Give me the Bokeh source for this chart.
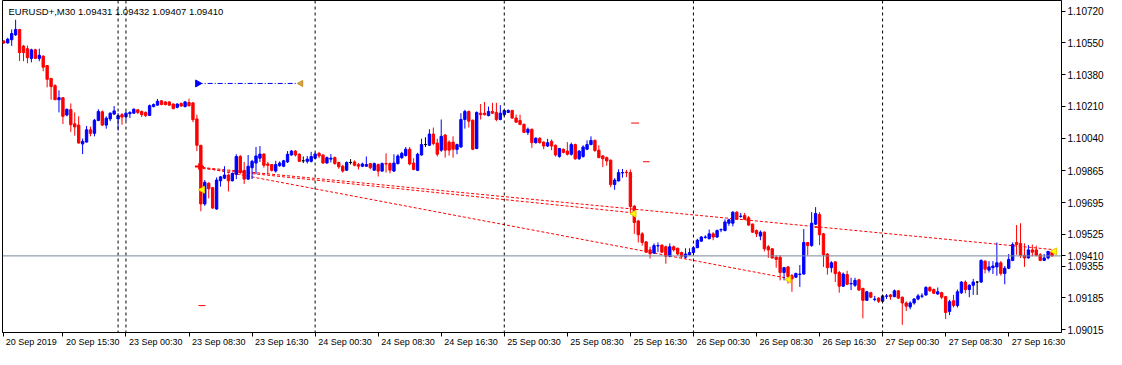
import math
from bokeh.plotting import figure
from bokeh.models import (Range1d, FixedTicker, Span, Label, ColumnDataSource,
                          NumeralTickFormatter, LinearAxis)
from bokeh.embed import file_html
from bokeh.resources import INLINE

symbol = "EURUSD+"
timeframe = "M30"

opens = [1.10560, 1.10550, 1.10567, 1.10593, 1.10622, 1.10533, 1.10519, 1.10467, 1.10513, 1.10467,
         1.10479, 1.10429, 1.10360, 1.10321, 1.10246, 1.10257, 1.10164, 1.10193, 1.10117, 1.10110,
         1.10009, 1.10019, 1.10085, 1.10066, 1.10135, 1.10181, 1.10110, 1.10143, 1.10169, 1.10143,
         1.10166, 1.10155, 1.10171, 1.10174, 1.10192, 1.10183, 1.10178, 1.10162, 1.10209, 1.10217,
         1.10240, 1.10234, 1.10234, 1.10223, 1.10205, 1.10226, 1.10209, 1.10231, 1.10229, 1.10143,
         1.10002, 1.09688, 1.09799, 1.09775, 1.09661, 1.09812, 1.09826, 1.09843, 1.09812, 1.09847,
         1.09942, 1.09868, 1.09821, 1.09882, 1.09907, 1.09933, 1.09955, 1.09902, 1.09899, 1.09864,
         1.09893, 1.09890, 1.09913, 1.09950, 1.09971, 1.09954, 1.09919, 1.09916, 1.09916, 1.09933,
         1.09959, 1.09950, 1.09907, 1.09928, 1.09936, 1.09910, 1.09890, 1.09869, 1.09910, 1.09913,
         1.09899, 1.09890, 1.09890, 1.09904, 1.09869, 1.09899, 1.09864, 1.09904, 1.09904, 1.09864,
         1.09904, 1.09936, 1.09947, 1.09981, 1.09907, 1.09868, 1.09950, 1.10006, 1.10002, 1.10062,
         1.10014, 1.09976, 1.10057, 1.10019, 1.10019, 1.09980, 1.09993, 1.10140, 1.10183, 1.10136,
         1.09985, 1.10174, 1.10174, 1.10161, 1.10183, 1.10178, 1.10140, 1.10166, 1.10178, 1.10188,
         1.10148, 1.10135, 1.10114, 1.10071, 1.10088, 1.10016, 1.10040, 1.10019, 1.09998, 1.10023,
         1.10002, 1.09942, 1.09981, 1.09971, 1.09954, 1.10006, 1.09930, 1.09942, 1.09981, 1.10006,
         1.10028, 1.09976, 1.09945, 1.09936, 1.09922, 1.09792, 1.09811, 1.09854, 1.09858, 1.09856,
         1.09676, 1.09597, 1.09528, 1.09485, 1.09442, 1.09425, 1.09463, 1.09468, 1.09459, 1.09408,
         1.09459, 1.09451, 1.09428, 1.09403, 1.09416, 1.09428, 1.09454, 1.09489, 1.09509, 1.09502,
         1.09528, 1.09511, 1.09549, 1.09546, 1.09585, 1.09585, 1.09644, 1.09621, 1.09626, 1.09614,
         1.09580, 1.09546, 1.09516, 1.09537, 1.09459, 1.09448, 1.09403, 1.09403, 1.09321, 1.09351,
         1.09304, 1.09296, 1.09311, 1.09313, 1.09482, 1.09465, 1.09580, 1.09631, 1.09528, 1.09420,
         1.09347, 1.09378, 1.09321, 1.09248, 1.09310, 1.09260, 1.09253, 1.09282, 1.09236, 1.09172,
         1.09213, 1.09177, 1.09184, 1.09167, 1.09194, 1.09201, 1.09192, 1.09223, 1.09189, 1.09158,
         1.09137, 1.09158, 1.09179, 1.09194, 1.09201, 1.09241, 1.09230, 1.09206, 1.09213, 1.09192,
         1.09113, 1.09170, 1.09144, 1.09213, 1.09270, 1.09230, 1.09253, 1.09270, 1.09270, 1.09382,
         1.09334, 1.09347, 1.09351, 1.09373, 1.09316, 1.09344, 1.09386, 1.09482, 1.09477, 1.09413,
         1.09399, 1.09442, 1.09442, 1.09416, 1.09386, 1.09399, 1.09431]

highs = [1.10565, 1.10577, 1.10622, 1.10674, 1.10625, 1.10539, 1.10536, 1.10519, 1.10519, 1.10519,
         1.10484, 1.10431, 1.10362, 1.10329, 1.10296, 1.10260, 1.10198, 1.10226, 1.10178, 1.10157,
         1.10038, 1.10105, 1.10102, 1.10143, 1.10195, 1.10188, 1.10157, 1.10178, 1.10212, 1.10174,
         1.10174, 1.10183, 1.10184, 1.10200, 1.10195, 1.10188, 1.10183, 1.10220, 1.10226, 1.10250,
         1.10243, 1.10238, 1.10238, 1.10226, 1.10226, 1.10231, 1.10240, 1.10252, 1.10234, 1.10166,
         1.10002, 1.09816, 1.09804, 1.09778, 1.09830, 1.09838, 1.09890, 1.09851, 1.09856, 1.09954,
         1.09950, 1.09913, 1.09950, 1.09924, 1.09993, 1.09998, 1.09959, 1.09913, 1.09902, 1.09919,
         1.09916, 1.09924, 1.09971, 1.09976, 1.09976, 1.09959, 1.09942, 1.09945, 1.09967, 1.09962,
         1.09967, 1.09954, 1.09942, 1.09955, 1.09942, 1.09914, 1.09897, 1.09916, 1.09928, 1.09921,
         1.09907, 1.09909, 1.09942, 1.09907, 1.09910, 1.09904, 1.09910, 1.09959, 1.09910, 1.09954,
         1.09954, 1.09967, 1.09993, 1.09993, 1.09933, 1.09962, 1.10037, 1.10045, 1.10088, 1.10097,
         1.10037, 1.10140, 1.10062, 1.10028, 1.10050, 1.10011, 1.10174, 1.10192, 1.10188, 1.10140,
         1.10183, 1.10223, 1.10234, 1.10209, 1.10229, 1.10229, 1.10217, 1.10192, 1.10195, 1.10192,
         1.10166, 1.10166, 1.10119, 1.10097, 1.10091, 1.10045, 1.10045, 1.10023, 1.10037, 1.10033,
         1.10006, 1.09988, 1.09985, 1.10019, 1.10016, 1.10011, 1.09976, 1.10002, 1.10028, 1.10050,
         1.10033, 1.10002, 1.09950, 1.09942, 1.09927, 1.09826, 1.09873, 1.09875, 1.09870, 1.09873,
         1.09682, 1.09603, 1.09537, 1.09489, 1.09459, 1.09477, 1.09482, 1.09471, 1.09465, 1.09477,
         1.09465, 1.09454, 1.09433, 1.09451, 1.09451, 1.09462, 1.09502, 1.09516, 1.09520, 1.09551,
         1.09537, 1.09551, 1.09557, 1.09606, 1.09609, 1.09649, 1.09649, 1.09640, 1.09640, 1.09623,
         1.09583, 1.09551, 1.09546, 1.09541, 1.09468, 1.09451, 1.09413, 1.09413, 1.09351, 1.09356,
         1.09313, 1.09320, 1.09361, 1.09554, 1.09482, 1.09644, 1.09671, 1.09644, 1.09533, 1.09425,
         1.09382, 1.09382, 1.09330, 1.09321, 1.09330, 1.09293, 1.09293, 1.09287, 1.09239, 1.09223,
         1.09218, 1.09196, 1.09189, 1.09201, 1.09206, 1.09206, 1.09230, 1.09227, 1.09192, 1.09167,
         1.09167, 1.09184, 1.09206, 1.09210, 1.09248, 1.09248, 1.09236, 1.09241, 1.09218, 1.09196,
         1.09175, 1.09201, 1.09230, 1.09275, 1.09279, 1.09258, 1.09287, 1.09275, 1.09391, 1.09386,
         1.09382, 1.09382, 1.09482, 1.09382, 1.09356, 1.09420, 1.09482, 1.09575, 1.09585, 1.09477,
         1.09468, 1.09471, 1.09465, 1.09425, 1.09420, 1.09437, 1.09432]

lows = [1.10545, 1.10546, 1.10534, 1.10587, 1.10453, 1.10452, 1.10441, 1.10446, 1.10463, 1.10452,
        1.10398, 1.10312, 1.10246, 1.10244, 1.10178, 1.10116, 1.10157, 1.10074, 1.10054, 1.10012,
        1.09955, 1.10017, 1.10050, 1.10050, 1.10131, 1.10105, 1.10091, 1.10131, 1.10164, 1.10081,
        1.10112, 1.10133, 1.10148, 1.10171, 1.10169, 1.10153, 1.10153, 1.10161, 1.10205, 1.10215,
        1.10217, 1.10215, 1.10214, 1.10195, 1.10200, 1.10209, 1.10205, 1.10209, 1.10126, 1.09971,
        1.09649, 1.09678, 1.09718, 1.09662, 1.09657, 1.09781, 1.09821, 1.09755, 1.09809, 1.09821,
        1.09847, 1.09795, 1.09816, 1.09821, 1.09847, 1.09913, 1.09882, 1.09847, 1.09861, 1.09856,
        1.09887, 1.09885, 1.09907, 1.09947, 1.09942, 1.09913, 1.09907, 1.09904, 1.09910, 1.09928,
        1.09933, 1.09904, 1.09904, 1.09910, 1.09899, 1.09876, 1.09856, 1.09864, 1.09899, 1.09890,
        1.09873, 1.09885, 1.09888, 1.09873, 1.09864, 1.09835, 1.09859, 1.09856, 1.09852, 1.09859,
        1.09899, 1.09928, 1.09942, 1.09895, 1.09868, 1.09864, 1.09947, 1.09993, 1.09998, 1.10002,
        1.09942, 1.09967, 1.09936, 1.09947, 1.09936, 1.09954, 1.09988, 1.10091, 1.10097, 1.09976,
        1.09981, 1.10140, 1.10161, 1.10157, 1.10171, 1.10131, 1.10136, 1.10157, 1.10174, 1.10143,
        1.10122, 1.10109, 1.10068, 1.10057, 1.09988, 1.10011, 1.10011, 1.09981, 1.09993, 1.09976,
        1.09942, 1.09936, 1.09959, 1.09947, 1.09947, 1.09924, 1.09924, 1.09936, 1.09976, 1.10002,
        1.09967, 1.09933, 1.09885, 1.09893, 1.09778, 1.09764, 1.09809, 1.09829, 1.09832, 1.09645,
        1.09528, 1.09482, 1.09465, 1.09425, 1.09396, 1.09420, 1.09430, 1.09425, 1.09368, 1.09403,
        1.09433, 1.09413, 1.09396, 1.09396, 1.09413, 1.09423, 1.09451, 1.09485, 1.09502, 1.09499,
        1.09494, 1.09506, 1.09537, 1.09541, 1.09571, 1.09568, 1.09603, 1.09614, 1.09603, 1.09571,
        1.09533, 1.09511, 1.09494, 1.09434, 1.09399, 1.09396, 1.09347, 1.09279, 1.09279, 1.09262,
        1.09218, 1.09292, 1.09244, 1.09310, 1.09413, 1.09459, 1.09575, 1.09468, 1.09351, 1.09310,
        1.09321, 1.09270, 1.09213, 1.09244, 1.09253, 1.09227, 1.09244, 1.09223, 1.09076, 1.09170,
        1.09184, 1.09167, 1.09158, 1.09161, 1.09179, 1.09175, 1.09189, 1.09179, 1.09041, 1.09115,
        1.09124, 1.09149, 1.09172, 1.09184, 1.09196, 1.09218, 1.09206, 1.09201, 1.09179, 1.09072,
        1.09093, 1.09134, 1.09134, 1.09206, 1.09210, 1.09189, 1.09201, 1.09201, 1.09265, 1.09316,
        1.09321, 1.09313, 1.09304, 1.09304, 1.09258, 1.09339, 1.09382, 1.09416, 1.09399, 1.09351,
        1.09396, 1.09408, 1.09408, 1.09382, 1.09382, 1.09391, 1.09407]

closes = [1.10550, 1.10570, 1.10600, 1.10622, 1.10498, 1.10498, 1.10471, 1.10513, 1.10467, 1.10484,
          1.10420, 1.10355, 1.10316, 1.10246, 1.10257, 1.10157, 1.10195, 1.10112, 1.10100, 1.10014,
          1.10023, 1.10085, 1.10066, 1.10136, 1.10183, 1.10110, 1.10147, 1.10174, 1.10186, 1.10161,
          1.10153, 1.10174, 1.10178, 1.10195, 1.10178, 1.10166, 1.10161, 1.10214, 1.10220, 1.10238,
          1.10220, 1.10220, 1.10217, 1.10198, 1.10223, 1.10212, 1.10234, 1.10214, 1.10139, 1.10002,
          1.09688, 1.09804, 1.09769, 1.09666, 1.09816, 1.09833, 1.09843, 1.09812, 1.09851, 1.09942,
          1.09856, 1.09821, 1.09890, 1.09916, 1.09945, 1.09955, 1.09895, 1.09895, 1.09868, 1.09899,
          1.09907, 1.09919, 1.09954, 1.09971, 1.09950, 1.09916, 1.09919, 1.09928, 1.09942, 1.09955,
          1.09945, 1.09907, 1.09936, 1.09933, 1.09904, 1.09887, 1.09864, 1.09910, 1.09910, 1.09895,
          1.09890, 1.09902, 1.09899, 1.09882, 1.09904, 1.09864, 1.09904, 1.09902, 1.09869, 1.09907,
          1.09945, 1.09959, 1.09981, 1.09902, 1.09873, 1.09954, 1.10006, 1.10006, 1.10062, 1.10011,
          1.09954, 1.10050, 1.09976, 1.09976, 1.09981, 1.10006, 1.10140, 1.10183, 1.10131, 1.09981,
          1.10178, 1.10166, 1.10166, 1.10183, 1.10174, 1.10140, 1.10174, 1.10188, 1.10188, 1.10148,
          1.10126, 1.10114, 1.10071, 1.10088, 1.10016, 1.10040, 1.10016, 1.09998, 1.10016, 1.09998,
          1.09950, 1.09985, 1.09964, 1.09954, 1.10006, 1.09930, 1.09971, 1.09993, 1.10006, 1.10028,
          1.09974, 1.09936, 1.09930, 1.09918, 1.09792, 1.09816, 1.09856, 1.09856, 1.09856, 1.09674,
          1.09589, 1.09523, 1.09482, 1.09430, 1.09422, 1.09465, 1.09465, 1.09430, 1.09408, 1.09459,
          1.09442, 1.09420, 1.09408, 1.09420, 1.09428, 1.09454, 1.09494, 1.09511, 1.09511, 1.09528,
          1.09511, 1.09546, 1.09551, 1.09592, 1.09603, 1.09644, 1.09606, 1.09623, 1.09606, 1.09575,
          1.09537, 1.09528, 1.09537, 1.09448, 1.09442, 1.09399, 1.09391, 1.09321, 1.09347, 1.09299,
          1.09287, 1.09316, 1.09313, 1.09482, 1.09465, 1.09585, 1.09637, 1.09523, 1.09416, 1.09347,
          1.09373, 1.09315, 1.09248, 1.09313, 1.09258, 1.09262, 1.09279, 1.09227, 1.09172, 1.09218,
          1.09189, 1.09179, 1.09167, 1.09196, 1.09196, 1.09192, 1.09223, 1.09184, 1.09158, 1.09141,
          1.09158, 1.09179, 1.09196, 1.09196, 1.09241, 1.09223, 1.09210, 1.09218, 1.09189, 1.09107,
          1.09165, 1.09144, 1.09218, 1.09270, 1.09230, 1.09253, 1.09270, 1.09270, 1.09386, 1.09339,
          1.09351, 1.09356, 1.09373, 1.09316, 1.09344, 1.09391, 1.09471, 1.09471, 1.09413, 1.09399,
          1.09442, 1.09430, 1.09413, 1.09386, 1.09399, 1.09434, 1.09410]

time_labels = ["20 Sep 2019", "20 Sep 15:30", "23 Sep 00:30", "23 Sep 08:30", "23 Sep 16:30",
               "24 Sep 00:30", "24 Sep 08:30", "24 Sep 16:30", "25 Sep 00:30", "25 Sep 08:30",
               "25 Sep 16:30", "26 Sep 00:30", "26 Sep 08:30", "26 Sep 16:30", "27 Sep 00:30",
               "27 Sep 08:30", "27 Sep 16:30"]
time_label_bars = [0, 15, 31, 47, 63, 79, 95, 111, 127, 143, 159, 175, 191, 207, 223, 239, 255]

price_ticks = [1.10720, 1.10550, 1.10380, 1.10210, 1.10040, 1.09865, 1.09695,
               1.09525, 1.09355, 1.09185, 1.09015]

separator_bars = [29, 31, 79, 127, 175, 223]
current_price = 1.09410

# trend lines (bar index / price)
trend_x0 = [50.4, 50.4, 50.4]
trend_y0 = [1.09883, 1.09878, 1.09883]
trend_x1 = [266.2, 159.9, 199.2]
trend_y1 = [1.09444, 1.09640, 1.09289]

# blue horizontal level
level_x0, level_x1, level_price = 49.2, 75.4, 1.10333
# red arrow anchor
anchor_bar, anchor_price = 49.3, 1.09888
# yellow left-pointing markers
yellow_bars = [50.4, 159.9, 199.2, 266.6]
yellow_prices = [1.09764, 1.09636, 1.09284, 1.09434]
# short red dashes
dash_x0 = [159.2, 162.2, 49.4, 205.7]
dash_x1 = [161.2, 163.9, 51.2, 207.3]
dash_price = [1.10121, 1.09914, 1.09144, 1.09563]

# ---------------------------------------------------------------
n = len(closes)
bars = list(range(n))
colors = []
for o, c in zip(opens, closes):
    if c > o:
        colors.append("#0000FF")
    elif c < o:
        colors.append("#FF0000")
    else:
        colors.append("#000000")

src = ColumnDataSource(dict(
    x=bars, o=opens, h=highs, l=lows, c=closes,
    top=[max(o, c) for o, c in zip(opens, closes)],
    bottom=[min(o, c) for o, c in zip(opens, closes)],
    color=colors))

FONT = "Liberation Sans"
X0, X1 = -0.33, 268.4
Y0, Y1 = 1.09000, 1.10777

p = figure(width=1106, height=349,
           x_range=Range1d(X0, X1), y_range=Range1d(Y0, Y1),
           output_backend="svg", toolbar_location=None,
           x_axis_location="below", y_axis_location="right",
           min_border_left=2, min_border_top=0, min_border_right=0, min_border_bottom=0,
           background_fill_color="white", border_fill_color="white",
           outline_line_color="black", outline_line_width=1)
p.grid.visible = False

# bottom axis 1: tick marks only
xa = p.xaxis[0]
xa.ticker = FixedTicker(ticks=time_label_bars)
xa.major_label_overrides = {b: "" for b in time_label_bars}
xa.major_label_text_font_size = "0px"
xa.major_label_standoff = 0
xa.minor_tick_line_color = None
xa.major_tick_in = 0
xa.major_tick_out = 4
xa.axis_line_color = "black"
xa.major_tick_line_color = "black"

# bottom axis 2: labels written to the right of each tick (MT4 style)
px_per_bar = 1056.0 / (X1 - X0)
label_centres = [b + (len(t) * 4.45 / 2 + 3) / px_per_bar for b, t in zip(time_label_bars, time_labels)]
xb = LinearAxis(ticker=FixedTicker(ticks=label_centres))
xb.major_label_overrides = {c: t for c, t in zip(label_centres, time_labels)}
xb.axis_line_color = None
xb.major_tick_line_color = None
xb.minor_tick_line_color = None
xb.major_tick_in = 0
xb.major_tick_out = 0
xb.major_label_standoff = 0
xb.major_label_text_font = FONT
xb.major_label_text_font_size = "9px"
xb.major_label_text_color = "black"
p.add_layout(xb, "below")

# price scale (the last price is shown on it as well)
ya = p.yaxis[0]
ya.ticker = FixedTicker(ticks=price_ticks + [current_price])
ya.formatter = NumeralTickFormatter(format="0.00000")
ya.minor_tick_line_color = None
ya.major_tick_in = 0
ya.major_tick_out = 4
ya.axis_line_color = "black"
ya.major_tick_line_color = "black"
ya.major_label_text_font = FONT
ya.major_label_text_font_size = "10px"
ya.major_label_text_color = "black"
ya.major_label_standoff = 2

# period separators
for b in separator_bars:
    p.add_layout(Span(location=b, dimension="height", line_color="black",
                      line_dash="3 3", line_width=1))

# current price line
p.add_layout(Span(location=current_price, dimension="width",
                  line_color="#778899", line_width=1))

# trend lines
p.segment(x0=trend_x0, y0=trend_y0, x1=trend_x1, y1=trend_y1,
          line_color="#FF0000", line_dash="3 2", line_width=1)

# candles
p.segment(x0="x", y0="l", x1="x", y1="h", source=src, line_color="color", line_width=1)
p.vbar(x="x", width=0.6, top="top", bottom="bottom", source=src,
       fill_color="color", line_color="color", line_width=1)

# blue level line with markers
p.segment(x0=[level_x0], y0=[level_price], x1=[level_x1], y1=[level_price],
          line_color="#0000FF", line_dash="5 2 1 2", line_width=1)
p.scatter(x=[level_x0], y=[level_price], marker="triangle", angle=-math.pi / 2,
          size=7, fill_color="#0000FF", line_color="#0000FF")
p.scatter(x=[level_x1], y=[level_price], marker="triangle", angle=math.pi / 2,
          size=6, fill_color="#D9A441", line_color="#C08A2A")

# red anchor arrow
p.segment(x0=[anchor_bar - 0.8], y0=[anchor_price], x1=[anchor_bar + 0.8], y1=[anchor_price],
          line_color="#FF0000", line_width=2)
p.scatter(x=[anchor_bar + 0.6], y=[anchor_price], marker="triangle", angle=-math.pi / 2,
          size=6, fill_color="#FF0000", line_color="#FF0000")

# red short dashes
p.segment(x0=dash_x0, y0=dash_price, x1=dash_x1, y1=dash_price,
          line_color="#FF0000", line_width=1)

# yellow markers
p.scatter(x=yellow_bars, y=yellow_prices, marker="triangle", angle=math.pi / 2,
          size=7, fill_color="#FFFF00", line_color="#E8C800")

# header
last = n - 1
header = (f"{symbol},{timeframe}  {opens[last]:.5f} {highs[last]:.5f} "
          f"{lows[last]:.5f} {closes[last]:.5f}")
p.add_layout(Label(x=1.2, y=1.10720, text=header, text_baseline="middle",
                   text_font=FONT, text_font_size="9.5px", text_color="black"))

open("out.html", "w").write(file_html(p, INLINE))
